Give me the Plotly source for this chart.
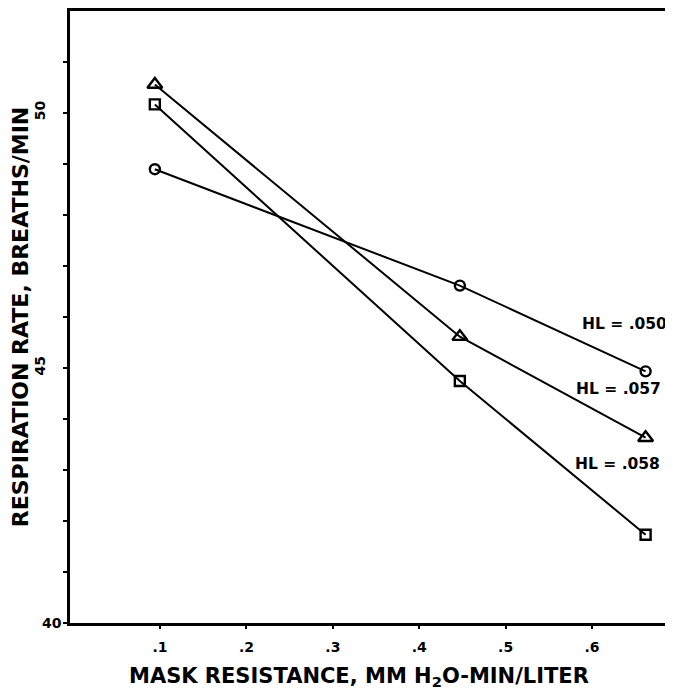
import plotly.graph_objects as go

resistance = [0.094, 0.447, 0.662]
rate_hl050 = [48.89, 46.61, 44.93]
rate_hl057 = [50.55, 45.61, 43.63]
rate_hl058 = [50.16, 44.74, 41.73]

series = [
    ("HL = .050", rate_hl050, "circle-open", 10),
    ("HL = .057", rate_hl057, "triangle-up-open", 13),
    ("HL = .058", rate_hl058, "square-open", 10),
]

label_x = [0.637, 0.631, 0.630]
label_y = [45.85, 44.58, 43.12]
label_text = ["HL = .050", "HL = .057", "HL = .058"]

x_tickvals = [0.1, 0.2, 0.3, 0.4, 0.5, 0.6]
x_ticktext = [".1", ".2", ".3", ".4", ".5", ".6"]
y_tickvals = [40, 45, 50]
y_ticktext = ["40", "45", "50"]

x_title = "MASK RESISTANCE, MM H<sub>2</sub>O-MIN/LITER"
y_title = "RESPIRATION RATE, BREATHS/MIN"

fig = go.Figure()
for name, ys, sym, msize in series:
    fig.add_trace(go.Scatter(
        x=resistance, y=ys, mode="lines+markers", name=name,
        line=dict(color="black", width=2),
        marker=dict(symbol=sym, size=msize, color="black", line=dict(width=2.4, color="black")),
        showlegend=False,
    ))

for tx, ty, tt in zip(label_x, label_y, label_text):
    fig.add_annotation(x=tx, y=ty, xref="x", yref="y", text="<b>" + tt + "</b>",
                       showarrow=False, font=dict(family="DejaVu Sans", size=15.5, color="black"))

# bottom y label drawn horizontally (the others are rotated in the original)
fig.add_annotation(x=0, y=y_tickvals[0], xref="paper", yref="y", text="<b>" + y_ticktext[0] + "</b>",
                   showarrow=False, xanchor="right", xshift=-6,
                   font=dict(family="DejaVu Sans", size=14, color="black"))

# x-axis title (slightly left of the plot centre, as in the original)
fig.add_annotation(x=0.479, y=0, xref="paper", yref="paper", text="<b>" + x_title + "</b>",
                   showarrow=False, xanchor="center", yanchor="middle", yshift=-54,
                   font=dict(family="DejaVu Sans", size=21, color="black"))

fig.update_layout(
    width=665, height=681,
    margin=dict(l=62, r=0, t=0, b=66),
    paper_bgcolor="white", plot_bgcolor="white",
    font=dict(family="DejaVu Sans", color="black"),
    xaxis=dict(
        range=[-0.0042, 0.6937], showgrid=False, zeroline=False,
        showline=True, linewidth=3, linecolor="black", mirror=True,
        tickvals=x_tickvals, ticktext=["<b>" + t + "</b>" for t in x_ticktext],
        ticks="outside", ticklen=3, tickwidth=2, tickcolor="black",
        ticklabelstandoff=6,
        tickfont=dict(size=14, family="DejaVu Sans"),
    ),
    yaxis=dict(
        range=[40, 51.99], showgrid=False, zeroline=False,
        showline=True, linewidth=3, linecolor="black",
        tickvals=y_tickvals[1:], ticktext=["<b>" + t + "</b>" for t in y_ticktext[1:]],
        tickangle=-90,
        ticks="outside", ticklen=4, tickwidth=2, tickcolor="black",
        ticklabelstandoff=12,
        minor=dict(dtick=1, tick0=40, ticks="outside", ticklen=4, tickwidth=2, tickcolor="black", showgrid=False),
        tickfont=dict(size=14, family="DejaVu Sans"),
        title=dict(text="<b>" + y_title + "</b>",
                   font=dict(size=22, family="DejaVu Sans"), standoff=3),
    ),
)

fig.write_html("out.html")
